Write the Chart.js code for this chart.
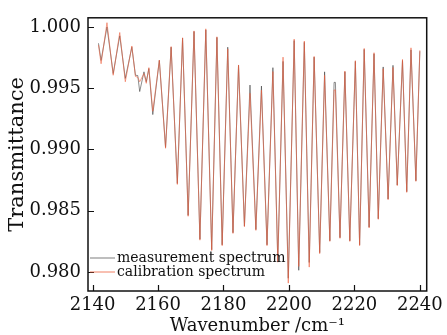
<!DOCTYPE html>
<html>
<head>
<meta charset="utf-8">
<script src="https://cdn.jsdelivr.net/npm/chart.js@4.4.0/dist/chart.umd.min.js"></script>
<style>
html,body{margin:0;padding:0;background:#fff;}
#wrap{width:447px;height:335px;position:relative;}
</style>
</head>
<body>
<div id="wrap"><canvas id="c" width="447" height="335"></canvas></div>
<script>
const wavenumber = [
2141.8, 2142.6, 2144.4, 2146.3, 2148.3, 2150.0, 2152.0, 2153.1, 2153.8, 2154.4, 2155.7, 2156.4, 2157.2, 2158.4, 2160.4,
2162.3, 2164.0, 2165.9, 2167.5, 2169.2, 2171.0, 2172.8, 2174.6, 2176.4, 2178.0, 2179.6, 2181.3, 2182.9, 2184.6, 2186.4,
2188.1, 2189.9, 2191.6, 2193.3, 2195.1, 2196.6, 2198.2, 2199.8, 2201.6, 2203.0, 2204.7, 2206.2, 2207.7, 2209.4, 2210.9,
2212.5, 2213.8, 2214.2, 2215.6, 2217.1, 2218.6, 2220.3, 2221.6, 2223.0, 2224.5, 2226.0, 2227.3, 2228.8, 2230.3, 2231.8,
2233.1, 2234.7, 2236.0, 2237.3, 2238.8, 2240.0];

const measurement = [
0.99867, 0.99727, 1.00000, 0.99620, 0.99928, 0.99580, 0.99835, 0.99606, 0.99604, 0.99473, 0.99634, 0.99553, 0.99660, 0.99285, 0.99727,
0.99018, 0.99835, 0.98723, 0.99909, 0.98463, 0.99963, 0.98268, 0.99976, 0.98182, 0.99915, 0.98222, 0.99835, 0.98321, 0.99687, 0.98375,
0.99526, 0.98347, 0.99518, 0.98222, 0.99668, 0.98086, 0.99719, 0.97949, 0.99889, 0.98014, 0.99875, 0.98078, 0.99754, 0.98158, 0.99634,
0.98255, 0.99548, 0.99548, 0.98281, 0.99634, 0.98255, 0.99719, 0.98222, 0.99817, 0.98367, 0.99781, 0.98435, 0.99674, 0.98596, 0.99687,
0.98710, 0.99727, 0.98656, 0.99813, 0.98745, 0.99802];

const calibration = [
0.99853, 0.99700, 1.00035, 0.99606, 0.99955, 0.99553, 0.99845, 0.99596, 0.99590, 0.99553, 0.99620, 0.99540, 0.99668, 0.99312, 0.99730,
0.99010, 0.99840, 0.98715, 0.99912, 0.98455, 0.99968, 0.98260, 0.99985, 0.98175, 0.99920, 0.98215, 0.99821, 0.98315, 0.99690, 0.98370,
0.99459, 0.98340, 0.99484, 0.98215, 0.99636, 0.98080, 0.99754, 0.97909, 0.99901, 0.98046, 0.99885, 0.98040, 0.99760, 0.98150, 0.99606,
0.98250, 0.99486, 0.99486, 0.98275, 0.99640, 0.98250, 0.99725, 0.98215, 0.99825, 0.98360, 0.99790, 0.98430, 0.99660, 0.98590, 0.99670,
0.98705, 0.99735, 0.98650, 0.99830, 0.98740, 0.99810];

const seriesNames = ['measurement spectrum', 'calibration spectrum'];
const xTickValues = [2140, 2160, 2180, 2200, 2220, 2240];
const yTickValues = [0.980, 0.985, 0.990, 0.995, 1.000];

const FONT = "'DejaVu Serif', serif";
const BLACK = 'rgba(50,50,50,0.8)';
const RED = 'rgb(238,96,62)';

function pts(ys){ return wavenumber.map((x,i)=>({x:x, y:ys[i]})); }

const framePlugin = {
  id: 'frame',
  afterDatasetsDraw(chart){
    const ctx = chart.ctx, a = chart.chartArea;
    const xs = chart.scales.x, ys = chart.scales.y;
    ctx.save();
    ctx.strokeStyle = '#111';
    ctx.lineWidth = 1.5;
    ctx.strokeRect(a.left, a.top, a.right - a.left, a.bottom - a.top);
    ctx.lineWidth = 1.2;
    ctx.beginPath();
    xs.ticks.forEach(t=>{
      const px = Math.round(xs.getPixelForValue(t.value)) + 0.5;
      ctx.moveTo(px, a.bottom); ctx.lineTo(px, a.bottom - 6);
    });
    ys.ticks.forEach(t=>{
      const py = Math.round(ys.getPixelForValue(t.value)) + 0.5;
      ctx.moveTo(a.left, py); ctx.lineTo(a.left + 6, py);
    });
    ctx.stroke();
    // legend inside plot area
    const lx = a.left + 2, ly0 = a.bottom - 33, step = 14;
    chart.data.datasets.forEach((ds, i)=>{
      const y = ly0 + i*step;
      ctx.strokeStyle = ds.borderColor;
      ctx.lineWidth = 0.8;
      ctx.beginPath(); ctx.moveTo(lx, y); ctx.lineTo(lx + 25, y); ctx.stroke();
      ctx.fillStyle = '#111';
      ctx.font = "14px " + FONT;
      ctx.textBaseline = 'middle';
      ctx.textAlign = 'left';
      ctx.fillText(ds.label, lx + 27, y);
    });
    ctx.restore();
  }
};

new Chart(document.getElementById('c'), {
  type: 'line',
  data: {
    datasets: [
      {label: seriesNames[0], data: pts(measurement), borderColor: BLACK, borderWidth: 0.7, pointRadius: 0, tension: 0, order: 1},
      {label: seriesNames[1], data: pts(calibration), borderColor: RED, borderWidth: 0.6, pointRadius: 0, tension: 0, order: 0}
    ]
  },
  options: {
    responsive: false,
    animation: false,
    devicePixelRatio: 1,
    layout: {padding: {top: 13, right: 13, left: 0, bottom: 0}},
    plugins: {legend: {display: false}, tooltip: {enabled: false}},
    scales: {
      x: {
        type: 'linear', min: 2138.6, max: 2242.1,
        grid: {display: false, drawTicks: false},
        border: {display: false},
        afterBuildTicks(s){ s.ticks = xTickValues.map(v=>({value:v})); },
        afterFit(s){ s.height = 44; },
        ticks: {color: '#111', padding: 4, maxRotation: 0, autoSkip: false, font: {family: FONT, size: 18},
                callback: v => String(v)},
        title: {display: true, text: 'Wavenumber /cm⁻¹', color: '#111', padding: {top: 0, bottom: 0}, font: {family: FONT, size: 18, lineHeight: 1}}
      },
      y: {
        type: 'linear', min: 0.97845, max: 1.00075,
        grid: {display: false, drawTicks: false},
        border: {display: false},
        afterBuildTicks(s){ s.ticks = yTickValues.map(v=>({value:v})); },
        afterFit(s){ s.width = 88; },
        ticks: {color: '#111', padding: 7, autoSkip: false, font: {family: FONT, size: 18},
                callback: v => v.toFixed(3)},
        title: {display: true, text: 'Transmittance', color: '#111', padding: {top: 7, bottom: 0}, font: {family: FONT, size: 21, lineHeight: 1}}
      }
    }
  },
  plugins: [framePlugin]
});
</script>
</body>
</html>
